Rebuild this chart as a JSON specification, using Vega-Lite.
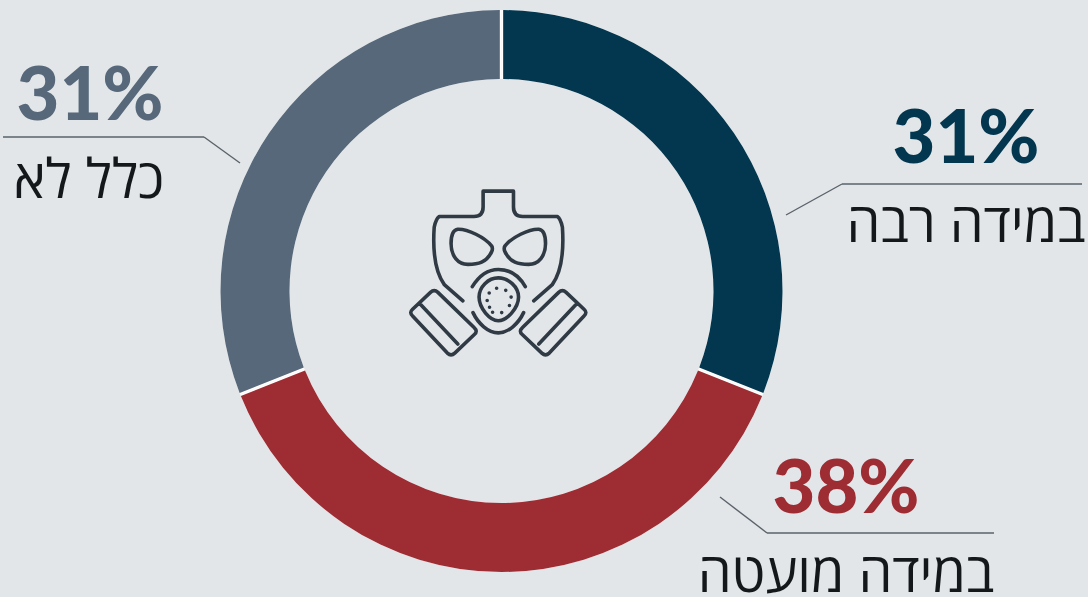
{"$schema":"https://vega.github.io/schema/vega-lite/v6.json","width":1088,"height":597,"padding":0,"autosize":{"type":"none"},"background":"#e3e6e9","config":{"view":{"stroke":null}},
"data":{"values":[{"category":"במידה רבה","share":0.31,"rank":1},{"category":"במידה מועטה","share":0.38,"rank":2},{"category":"כלל לא","share":0.31,"rank":3}]},
"layer":[
{"mark":{"type":"arc","outerRadius":281,"innerRadius":212,"color":"#ffffff"},"encoding":{"theta":{"field":"share","type":"quantitative","stack":true},"order":{"field":"rank","type":"quantitative"},"x":{"datum":501.5,"type":"quantitative","scale":{"domain":[0,1088],"range":[0,1088]},"axis":null},"y":{"datum":291,"type":"quantitative","scale":{"domain":[0,597],"range":[0,597]},"axis":null}}},
{"mark":{"type":"arc","outerRadius":281,"innerRadius":212,"padAngle":0.0095},"encoding":{"theta":{"field":"share","type":"quantitative","stack":true},"order":{"field":"rank","type":"quantitative"},"color":{"field":"category","type":"nominal","scale":{"domain":["במידה רבה","במידה מועטה","כלל לא"],"range":["#03374f","#9e2c33","#56687a"]},"legend":null},"x":{"datum":501.5,"type":"quantitative","scale":{"domain":[0,1088],"range":[0,1088]},"axis":null},"y":{"datum":291,"type":"quantitative","scale":{"domain":[0,597],"range":[0,597]},"axis":null}}},
{"transform":[{"filter":{"field":"rank","equal":1}}],"mark":{"type":"point","filled":false,"size":0.4554,"opacity":1,"stroke":"#2f3a44","strokeWidth":3.6,"strokeCap":"round","strokeJoin":"round","shape":"M-105 83 L-160 35 C-185 0 -195 -60 -190 -135 Q-185 -160 -175 -167 H-72 Q-45 -167 -45 -195 V-242 H45 V-195 Q45 -167 72 -167 H175 Q185 -160 190 -135 C195 -60 185 0 160 35 L105 83 M-120 -129 C-90 -130 -40 -105 -20 -80 Q-15 -72 -20 -62 C-35 -30 -60 -25 -90 -25 C-120 -25 -140 -50 -140 -87 C-140 -110 -135 -127 -120 -129 Z M120 -129 C90 -130 40 -105 20 -80 Q15 -72 20 -62 C35 -30 60 -25 90 -25 C120 -25 140 -50 140 -87 C140 -110 135 -127 120 -129 Z M-77 41 C-55 5 -30 -10 0 -10 C30 -10 60 5 80 41 M0 15 C-30 15 -57 42 -57 72 C-57 105 -25 142 0 142 C25 142 60 105 60 72 C60 42 30 15 0 15 Z M-75 118 C-60 150 -30 178 0 178 C30 178 60 150 75 118 M-179 58 Q-190 48 -201 58 L-254 108 Q-265 118 -254 128 L-151 238 Q-140 248 -129 238 L-71 183 Q-60 173 -71 163 Z M-233 91 L-120 211 M179 58 Q190 48 201 58 L254 108 Q265 118 254 128 L151 238 Q140 248 129 238 L71 183 Q60 173 71 163 Z M233 91 L120 211 M-5 46 h0.1 M22 52 h0.1 M38 72 h0.1 M33 97 h0.1 M10 118 h0.1 M-17 117 h0.1 M-27 60 h0.1 M-33 82 h0.1 M-26 102 h0.1"},"encoding":{"x":{"datum":498.3,"type":"quantitative","scale":{"domain":[0,1088],"range":[0,1088]},"axis":null},"y":{"datum":272.8,"type":"quantitative","scale":{"domain":[0,597],"range":[0,597]},"axis":null}}},

{"transform":[{"filter":{"field":"rank","equal":1}}],"mark":{"type":"text","font":"Lato","fontWeight":900,"fontSize":74,"baseline":"alphabetic","align":"center"},"encoding":{"text":{"field":"share","format":".0%"},"color":{"field":"category","type":"nominal","scale":{"domain":["במידה רבה","במידה מועטה","כלל לא"],"range":["#03374f","#9e2c33","#56687a"]},"legend":null},"x":{"datum":966,"type":"quantitative","scale":{"domain":[0,1088],"range":[0,1088]},"axis":null},"y":{"datum":163,"type":"quantitative","scale":{"domain":[0,597],"range":[0,597]},"axis":null}}},
{"transform":[{"filter":{"field":"rank","equal":2}}],"mark":{"type":"text","font":"Lato","fontWeight":900,"fontSize":74,"baseline":"alphabetic","align":"center"},"encoding":{"text":{"field":"share","format":".0%"},"color":{"field":"category","type":"nominal","scale":{"domain":["במידה רבה","במידה מועטה","כלל לא"],"range":["#03374f","#9e2c33","#56687a"]},"legend":null},"x":{"datum":846,"type":"quantitative","scale":{"domain":[0,1088],"range":[0,1088]},"axis":null},"y":{"datum":513,"type":"quantitative","scale":{"domain":[0,597],"range":[0,597]},"axis":null}}},
{"transform":[{"filter":{"field":"rank","equal":3}}],"mark":{"type":"text","font":"Lato","fontWeight":900,"fontSize":74,"baseline":"alphabetic","align":"center"},"encoding":{"text":{"field":"share","format":".0%"},"color":{"field":"category","type":"nominal","scale":{"domain":["במידה רבה","במידה מועטה","כלל לא"],"range":["#03374f","#9e2c33","#56687a"]},"legend":null},"x":{"datum":90,"type":"quantitative","scale":{"domain":[0,1088],"range":[0,1088]},"axis":null},"y":{"datum":120,"type":"quantitative","scale":{"domain":[0,597],"range":[0,597]},"axis":null}}},

{"transform":[{"filter":{"field":"rank","equal":1}}],"mark":{"type":"text","font":"Open Sans","fontWeight":500,"fontSize":54,"baseline":"alphabetic","align":"center","color":"#15181b"},"encoding":{"text":{"field":"category"},"x":{"datum":966,"type":"quantitative","scale":{"domain":[0,1088],"range":[0,1088]},"axis":null},"y":{"datum":242,"type":"quantitative","scale":{"domain":[0,597],"range":[0,597]},"axis":null}}},
{"transform":[{"filter":{"field":"rank","equal":2}}],"mark":{"type":"text","font":"Open Sans","fontWeight":500,"fontSize":54,"baseline":"alphabetic","align":"center","color":"#15181b"},"encoding":{"text":{"field":"category"},"x":{"datum":846,"type":"quantitative","scale":{"domain":[0,1088],"range":[0,1088]},"axis":null},"y":{"datum":592,"type":"quantitative","scale":{"domain":[0,597],"range":[0,597]},"axis":null}}},
{"transform":[{"filter":{"field":"rank","equal":3}}],"mark":{"type":"text","font":"Open Sans","fontWeight":500,"fontSize":54,"baseline":"alphabetic","align":"center","color":"#15181b"},"encoding":{"text":{"field":"category"},"x":{"datum":89,"type":"quantitative","scale":{"domain":[0,1088],"range":[0,1088]},"axis":null},"y":{"datum":198,"type":"quantitative","scale":{"domain":[0,597],"range":[0,597]},"axis":null}}},

{"transform":[{"filter":{"field":"rank","equal":1}}],"mark":{"type":"rule","stroke":"#5a636b","strokeWidth":1.4},"encoding":{"x":{"datum":786,"type":"quantitative","scale":{"domain":[0,1088],"range":[0,1088]},"axis":null},"x2":{"datum":842},"y":{"datum":215,"type":"quantitative","scale":{"domain":[0,597],"range":[0,597]},"axis":null},"y2":{"datum":184}}},
{"transform":[{"filter":{"field":"rank","equal":1}}],"mark":{"type":"rule","stroke":"#5a636b","strokeWidth":1.4},"encoding":{"x":{"datum":842,"type":"quantitative","scale":{"domain":[0,1088],"range":[0,1088]},"axis":null},"x2":{"datum":1082},"y":{"datum":184,"type":"quantitative","scale":{"domain":[0,597],"range":[0,597]},"axis":null},"y2":{"datum":184}}},
{"transform":[{"filter":{"field":"rank","equal":2}}],"mark":{"type":"rule","stroke":"#5a636b","strokeWidth":1.4},"encoding":{"x":{"datum":720,"type":"quantitative","scale":{"domain":[0,1088],"range":[0,1088]},"axis":null},"x2":{"datum":767},"y":{"datum":497,"type":"quantitative","scale":{"domain":[0,597],"range":[0,597]},"axis":null},"y2":{"datum":533}}},
{"transform":[{"filter":{"field":"rank","equal":2}}],"mark":{"type":"rule","stroke":"#5a636b","strokeWidth":1.4},"encoding":{"x":{"datum":767,"type":"quantitative","scale":{"domain":[0,1088],"range":[0,1088]},"axis":null},"x2":{"datum":994},"y":{"datum":533,"type":"quantitative","scale":{"domain":[0,597],"range":[0,597]},"axis":null},"y2":{"datum":533}}},
{"transform":[{"filter":{"field":"rank","equal":3}}],"mark":{"type":"rule","stroke":"#5a636b","strokeWidth":1.4},"encoding":{"x":{"datum":3,"type":"quantitative","scale":{"domain":[0,1088],"range":[0,1088]},"axis":null},"x2":{"datum":204},"y":{"datum":137,"type":"quantitative","scale":{"domain":[0,597],"range":[0,597]},"axis":null},"y2":{"datum":137}}},
{"transform":[{"filter":{"field":"rank","equal":3}}],"mark":{"type":"rule","stroke":"#5a636b","strokeWidth":1.4},"encoding":{"x":{"datum":204,"type":"quantitative","scale":{"domain":[0,1088],"range":[0,1088]},"axis":null},"x2":{"datum":240},"y":{"datum":137,"type":"quantitative","scale":{"domain":[0,597],"range":[0,597]},"axis":null},"y2":{"datum":163}}}
]}
